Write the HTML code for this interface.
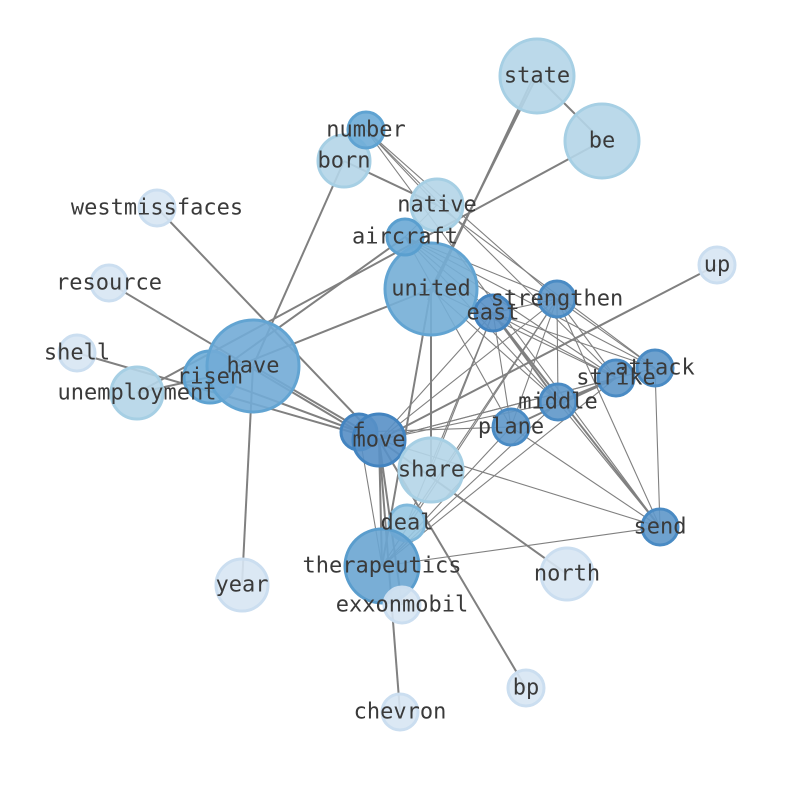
<!DOCTYPE html>
<html><head><meta charset="utf-8"><style>
html,body{margin:0;padding:0;background:#fff;}
svg{display:block;}
text{font-family:"DejaVu Sans Mono","Liberation Mono",monospace;font-size:22px;fill:#3a3a3a;text-anchor:middle;dominant-baseline:central;}
</style></head><body>
<svg width="794" height="790" viewBox="0 0 794 790" xmlns="http://www.w3.org/2000/svg">
<g stroke="#808080" stroke-width="2" fill="none">
<line x1="537" y1="76" x2="602" y2="141"/>
<line x1="537" y1="76" x2="431" y2="289"/>
<line x1="534" y1="76" x2="428" y2="300"/>
<line x1="602" y1="141" x2="137" y2="393"/>
<line x1="717" y1="265" x2="379" y2="440"/>
<line x1="157" y1="208" x2="379" y2="440"/>
<line x1="109" y1="283" x2="359" y2="432"/>
<line x1="77" y1="353" x2="379" y2="440"/>
<line x1="137" y1="393" x2="210" y2="377"/>
<line x1="210" y1="377" x2="405" y2="237"/>
<line x1="210" y1="377" x2="431" y2="289"/>
<line x1="210" y1="377" x2="359" y2="432"/>
<line x1="253" y1="366" x2="344" y2="161"/>
<line x1="253" y1="366" x2="242" y2="585"/>
<line x1="253" y1="366" x2="379" y2="440"/>
<line x1="344" y1="161" x2="437" y2="205"/>
<line x1="431" y1="289" x2="431" y2="470"/>
<line x1="431" y1="289" x2="382" y2="566"/>
<line x1="379" y1="440" x2="400" y2="712"/>
<line x1="379" y1="440" x2="526" y2="688"/>
<line x1="379" y1="440" x2="567" y2="574"/>
<line x1="379" y1="440" x2="382" y2="566"/>
<line x1="379" y1="440" x2="402" y2="605"/>
<line x1="493" y1="313" x2="558" y2="402"/>
<line x1="493" y1="313" x2="660" y2="527"/>
<line x1="558" y1="402" x2="616" y2="378"/>
<line x1="511" y1="427" x2="616" y2="378"/>
</g>
<g stroke="#808080" stroke-width="1.1" fill="none">
<line x1="366" y1="130" x2="437" y2="205"/>
<line x1="366" y1="130" x2="616" y2="378"/>
<line x1="366" y1="130" x2="660" y2="527"/>
<line x1="366" y1="130" x2="557" y2="299"/>
<line x1="437" y1="205" x2="405" y2="237"/>
<line x1="437" y1="205" x2="655" y2="368"/>
<line x1="405" y1="237" x2="557" y2="299"/>
<line x1="405" y1="237" x2="493" y2="313"/>
<line x1="405" y1="237" x2="616" y2="378"/>
<line x1="405" y1="237" x2="655" y2="368"/>
<line x1="405" y1="237" x2="558" y2="402"/>
<line x1="405" y1="237" x2="511" y2="427"/>
<line x1="431" y1="289" x2="616" y2="378"/>
<line x1="431" y1="289" x2="558" y2="402"/>
<line x1="557" y1="299" x2="493" y2="313"/>
<line x1="557" y1="299" x2="379" y2="440"/>
<line x1="557" y1="299" x2="407" y2="523"/>
<line x1="557" y1="299" x2="382" y2="566"/>
<line x1="557" y1="299" x2="558" y2="402"/>
<line x1="557" y1="299" x2="511" y2="427"/>
<line x1="557" y1="299" x2="616" y2="378"/>
<line x1="557" y1="299" x2="655" y2="368"/>
<line x1="557" y1="299" x2="660" y2="527"/>
<line x1="493" y1="313" x2="379" y2="440"/>
<line x1="493" y1="313" x2="511" y2="427"/>
<line x1="493" y1="313" x2="407" y2="523"/>
<line x1="493" y1="313" x2="431" y2="470"/>
<line x1="493" y1="313" x2="616" y2="378"/>
<line x1="493" y1="313" x2="655" y2="368"/>
<line x1="655" y1="368" x2="379" y2="440"/>
<line x1="655" y1="368" x2="660" y2="527"/>
<line x1="616" y1="378" x2="379" y2="440"/>
<line x1="616" y1="378" x2="382" y2="566"/>
<line x1="558" y1="402" x2="379" y2="440"/>
<line x1="558" y1="402" x2="382" y2="566"/>
<line x1="558" y1="402" x2="660" y2="527"/>
<line x1="511" y1="427" x2="359" y2="432"/>
<line x1="511" y1="427" x2="382" y2="566"/>
<line x1="511" y1="427" x2="660" y2="527"/>
<line x1="379" y1="440" x2="660" y2="527"/>
<line x1="359" y1="432" x2="382" y2="566"/>
<line x1="382" y1="566" x2="660" y2="527"/>
</g>
<g stroke-width="3" fill-opacity="0.9">
<circle cx="537" cy="76" r="37" fill="#b4d5e8" stroke="#a6cfe4"/>
<circle cx="602" cy="141" r="37" fill="#b4d5e8" stroke="#a6cfe4"/>
<circle cx="344" cy="161" r="26" fill="#b4d5e8" stroke="#a6cfe4"/>
<circle cx="437" cy="205" r="26" fill="#b4d5e8" stroke="#a6cfe4"/>
<circle cx="366" cy="130" r="18" fill="#6eacd7" stroke="#5fa3d2"/>
<circle cx="157" cy="208" r="18" fill="#d7e5f3" stroke="#cbdef0"/>
<circle cx="717" cy="265" r="18" fill="#d7e5f3" stroke="#cbdef0"/>
<circle cx="109" cy="283" r="18" fill="#d7e5f3" stroke="#cbdef0"/>
<circle cx="77" cy="353" r="18" fill="#d7e5f3" stroke="#cbdef0"/>
<circle cx="431" cy="289" r="46" fill="#74aed6" stroke="#62a4d2"/>
<circle cx="405" cy="237" r="18" fill="#6aa9d5" stroke="#5a9fcf"/>
<circle cx="557" cy="299" r="18" fill="#5e97c9" stroke="#4a8bc4"/>
<circle cx="493" cy="313" r="18" fill="#5890c6" stroke="#4384c0"/>
<circle cx="137" cy="393" r="26" fill="#b4d5e8" stroke="#a6cfe4"/>
<circle cx="210" cy="377" r="26" fill="#6eacd7" stroke="#5ea2d1"/>
<circle cx="253" cy="366" r="46" fill="#72abd6" stroke="#62a4d2"/>
<circle cx="655" cy="368" r="18" fill="#5e97c9" stroke="#4a8bc4"/>
<circle cx="616" cy="378" r="18" fill="#5e97c9" stroke="#4a8bc4"/>
<circle cx="558" cy="402" r="18" fill="#5e97c9" stroke="#4a8bc4"/>
<circle cx="511" cy="427" r="18" fill="#5e97c9" stroke="#4a8bc4"/>
<circle cx="359" cy="432" r="18" fill="#558ec5" stroke="#4384c0"/>
<circle cx="379" cy="440" r="26" fill="#5890c6" stroke="#4384c0"/>
<circle cx="431" cy="470" r="32" fill="#b4d5e8" stroke="#a6cfe4"/>
<circle cx="407" cy="523" r="18" fill="#97c6e2" stroke="#80b9dc"/>
<circle cx="660" cy="527" r="18" fill="#5e97c9" stroke="#4a8bc4"/>
<circle cx="382" cy="566" r="37" fill="#6aa5d2" stroke="#5a9dcd"/>
<circle cx="567" cy="574" r="26" fill="#d7e5f3" stroke="#cbdef0"/>
<circle cx="242" cy="585" r="26" fill="#d7e5f3" stroke="#cbdef0"/>
<circle cx="402" cy="605" r="18" fill="#d7e5f3" stroke="#cbdef0"/>
<circle cx="526" cy="688" r="18" fill="#d7e5f3" stroke="#cbdef0"/>
<circle cx="400" cy="712" r="18" fill="#d7e5f3" stroke="#cbdef0"/>
</g>
<g>
<text x="537" y="76">state</text>
<text x="602" y="141">be</text>
<text x="366" y="130">number</text>
<text x="344" y="161">born</text>
<text x="437" y="205">native</text>
<text x="157" y="208">westmissfaces</text>
<text x="405" y="237">aircraft</text>
<text x="717" y="265">up</text>
<text x="109" y="283">resource</text>
<text x="431" y="289">united</text>
<text x="557" y="299">strengthen</text>
<text x="493" y="313">east</text>
<text x="77" y="353">shell</text>
<text x="253" y="366">have</text>
<text x="210" y="377">risen</text>
<text x="137" y="393">unemployment</text>
<text x="655" y="368">attack</text>
<text x="616" y="378">strike</text>
<text x="558" y="402">middle</text>
<text x="511" y="427">plane</text>
<text x="359" y="432">f</text>
<text x="379" y="440">move</text>
<text x="431" y="470">share</text>
<text x="407" y="523">deal</text>
<text x="660" y="527">send</text>
<text x="382" y="566">therapeutics</text>
<text x="567" y="574">north</text>
<text x="242" y="585">year</text>
<text x="402" y="605">exxonmobil</text>
<text x="526" y="688">bp</text>
<text x="400" y="712">chevron</text>
</g>
</svg>
</body></html>
